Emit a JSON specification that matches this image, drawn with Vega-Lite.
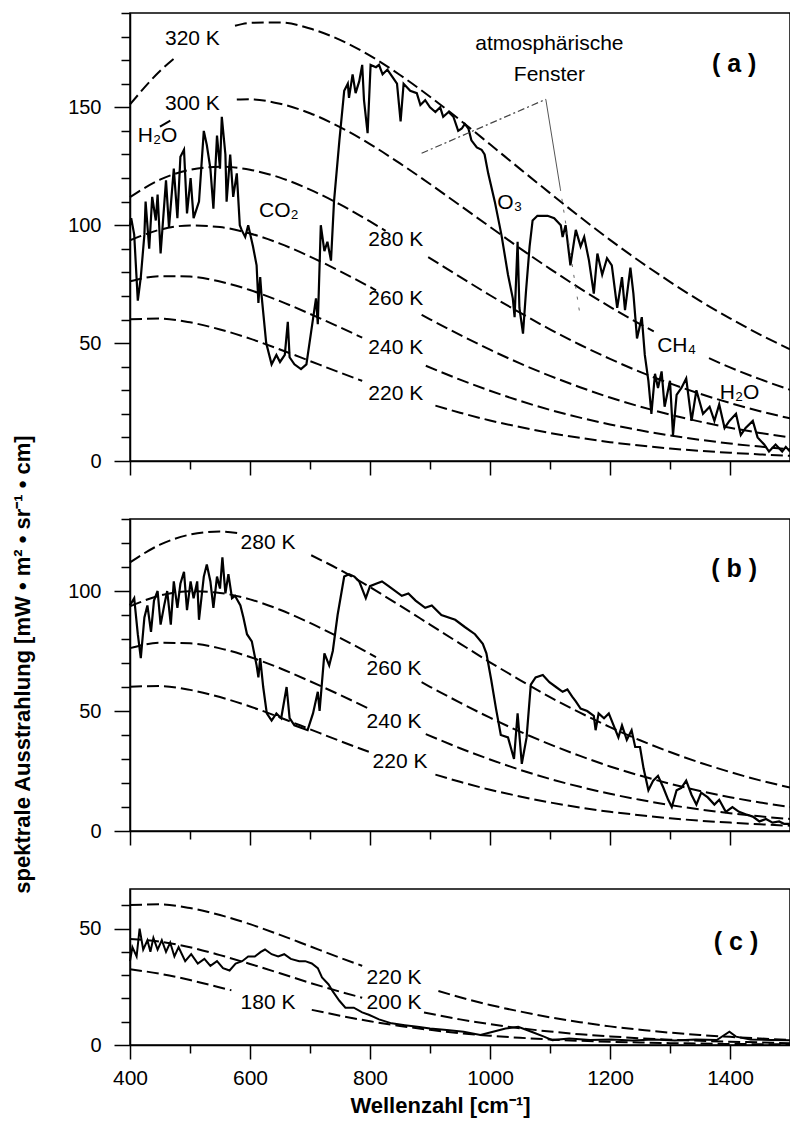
{
"$schema": "https://vega.github.io/schema/vega-lite/v6.json",
"background": "white",
"padding": {"left": 10, "top": 2, "right": 0, "bottom": 8},
"bounds": "flush",
"spacing": 58,
"config": {
 "view": {"stroke": "black", "strokeWidth": 1.5},
 "axis": {"domainColor": "black", "domainWidth": 1.5, "tickColor": "black", "tickWidth": 1.5, "labelColor": "black", "titleColor": "black", "labelFont": "Liberation Sans", "titleFont": "Liberation Sans", "grid": false, "labelOverlap": false, "labelFlush": false},
 "text": {"font": "Liberation Sans", "color": "black"}
},
"datasets": {
 "curves": [
  {"p":"a","c":"320_1","x":400,"y":151.2},{"p":"a","c":"320_1","x":450,"y":165.4},{"p":"a","c":"320_1","x":475,"y":171.0},
  {"p":"a","c":"320_2","x":575,"y":184.6},{"p":"a","c":"320_2","x":600,"y":185.8},{"p":"a","c":"320_2","x":650,"y":186.0},{"p":"a","c":"320_2","x":700,"y":183.4},{"p":"a","c":"320_2","x":750,"y":178.6},{"p":"a","c":"320_2","x":800,"y":171.9},{"p":"a","c":"320_2","x":850,"y":163.7},{"p":"a","c":"320_2","x":900,"y":154.5},{"p":"a","c":"320_2","x":950,"y":144.6},{"p":"a","c":"320_2","x":1000,"y":134.3},{"p":"a","c":"320_2","x":1050,"y":123.9},{"p":"a","c":"320_2","x":1100,"y":113.6},{"p":"a","c":"320_2","x":1150,"y":103.5},{"p":"a","c":"320_2","x":1200,"y":93.8},{"p":"a","c":"320_2","x":1250,"y":84.6},{"p":"a","c":"320_2","x":1300,"y":76.0},{"p":"a","c":"320_2","x":1350,"y":67.9},{"p":"a","c":"320_2","x":1400,"y":60.5},{"p":"a","c":"320_2","x":1450,"y":53.6},{"p":"a","c":"320_2","x":1500,"y":47.4},
  {"p":"a","c":"300_0","x":450,"y":141.8},{"p":"a","c":"300_0","x":472,"y":145.1},
  {"p":"a","c":"300_1","x":578,"y":153.3},{"p":"a","c":"300_1","x":600,"y":153.4},{"p":"a","c":"300_1","x":650,"y":151.5},{"p":"a","c":"300_1","x":700,"y":147.5},{"p":"a","c":"300_1","x":750,"y":141.6},{"p":"a","c":"300_1","x":800,"y":134.4},{"p":"a","c":"300_1","x":850,"y":126.2},{"p":"a","c":"300_1","x":900,"y":117.5},{"p":"a","c":"300_1","x":950,"y":108.4},{"p":"a","c":"300_1","x":1000,"y":99.3},{"p":"a","c":"300_1","x":1050,"y":90.2},{"p":"a","c":"300_1","x":1100,"y":81.5},{"p":"a","c":"300_1","x":1150,"y":73.2},{"p":"a","c":"300_1","x":1200,"y":65.4},{"p":"a","c":"300_1","x":1250,"y":58.1},{"p":"a","c":"300_1","x":1273,"y":55.0},
  {"p":"a","c":"300_2","x":1365,"y":43.6},{"p":"a","c":"300_2","x":1400,"y":39.7},{"p":"a","c":"300_2","x":1450,"y":34.7},{"p":"a","c":"300_2","x":1500,"y":30.2},
  {"p":"a","c":"280_1","x":400,"y":111.9},{"p":"a","c":"280_1","x":450,"y":119.3},{"p":"a","c":"280_1","x":500,"y":123.5},{"p":"a","c":"280_1","x":550,"y":124.8},{"p":"a","c":"280_1","x":600,"y":123.5},{"p":"a","c":"280_1","x":650,"y":120.2},{"p":"a","c":"280_1","x":700,"y":115.1},{"p":"a","c":"280_1","x":750,"y":108.8},{"p":"a","c":"280_1","x":800,"y":101.6},{"p":"a","c":"280_1","x":826,"y":97.6},
  {"p":"a","c":"280_2","x":897,"y":86.5},{"p":"a","c":"280_2","x":950,"y":78.1},{"p":"a","c":"280_2","x":1000,"y":70.3},{"p":"a","c":"280_2","x":1050,"y":62.9},{"p":"a","c":"280_2","x":1100,"y":55.8},{"p":"a","c":"280_2","x":1150,"y":49.3},{"p":"a","c":"280_2","x":1200,"y":43.3},{"p":"a","c":"280_2","x":1250,"y":37.8},{"p":"a","c":"280_2","x":1300,"y":32.9},{"p":"a","c":"280_2","x":1350,"y":28.5},{"p":"a","c":"280_2","x":1400,"y":24.6},{"p":"a","c":"280_2","x":1450,"y":21.1},{"p":"a","c":"280_2","x":1500,"y":18.1},
  {"p":"a","c":"260_1","x":400,"y":93.6},{"p":"a","c":"260_1","x":450,"y":98.1},{"p":"a","c":"260_1","x":500,"y":99.9},{"p":"a","c":"260_1","x":550,"y":99.2},{"p":"a","c":"260_1","x":600,"y":96.5},{"p":"a","c":"260_1","x":650,"y":92.2},{"p":"a","c":"260_1","x":700,"y":86.7},{"p":"a","c":"260_1","x":750,"y":80.5},{"p":"a","c":"260_1","x":800,"y":73.8},{"p":"a","c":"260_1","x":810,"y":72.4},
  {"p":"a","c":"260_2","x":886,"y":62.0},{"p":"a","c":"260_2","x":900,"y":60.1},{"p":"a","c":"260_2","x":950,"y":53.5},{"p":"a","c":"260_2","x":1000,"y":47.2},{"p":"a","c":"260_2","x":1050,"y":41.4},{"p":"a","c":"260_2","x":1100,"y":36.1},{"p":"a","c":"260_2","x":1150,"y":31.3},{"p":"a","c":"260_2","x":1200,"y":26.9},{"p":"a","c":"260_2","x":1250,"y":23.1},{"p":"a","c":"260_2","x":1300,"y":19.7},{"p":"a","c":"260_2","x":1350,"y":16.7},{"p":"a","c":"260_2","x":1400,"y":14.1},{"p":"a","c":"260_2","x":1450,"y":11.9},{"p":"a","c":"260_2","x":1500,"y":10.0},
  {"p":"a","c":"240_1","x":400,"y":76.2},{"p":"a","c":"240_1","x":450,"y":78.4},{"p":"a","c":"240_1","x":500,"y":78.2},{"p":"a","c":"240_1","x":550,"y":76.1},{"p":"a","c":"240_1","x":600,"y":72.5},{"p":"a","c":"240_1","x":650,"y":67.8},{"p":"a","c":"240_1","x":700,"y":62.4},{"p":"a","c":"240_1","x":750,"y":56.7},{"p":"a","c":"240_1","x":787,"y":52.3},
  {"p":"a","c":"240_2","x":893,"y":40.4},{"p":"a","c":"240_2","x":950,"y":34.5},{"p":"a","c":"240_2","x":1000,"y":29.8},{"p":"a","c":"240_2","x":1050,"y":25.5},{"p":"a","c":"240_2","x":1100,"y":21.7},{"p":"a","c":"240_2","x":1150,"y":18.4},{"p":"a","c":"240_2","x":1200,"y":15.5},{"p":"a","c":"240_2","x":1250,"y":13.0},{"p":"a","c":"240_2","x":1300,"y":10.8},{"p":"a","c":"240_2","x":1350,"y":9.0},{"p":"a","c":"240_2","x":1400,"y":7.4},{"p":"a","c":"240_2","x":1450,"y":6.1},{"p":"a","c":"240_2","x":1500,"y":5.0},
  {"p":"a","c":"220_1","x":400,"y":60.1},{"p":"a","c":"220_1","x":450,"y":60.4},{"p":"a","c":"220_1","x":500,"y":58.8},{"p":"a","c":"220_1","x":550,"y":55.8},{"p":"a","c":"220_1","x":600,"y":51.9},{"p":"a","c":"220_1","x":650,"y":47.3},{"p":"a","c":"220_1","x":700,"y":42.4},{"p":"a","c":"220_1","x":750,"y":37.5},{"p":"a","c":"220_1","x":787,"y":34.0},
  {"p":"a","c":"220_2","x":909,"y":23.5},{"p":"a","c":"220_2","x":950,"y":20.5},{"p":"a","c":"220_2","x":1000,"y":17.2},{"p":"a","c":"220_2","x":1050,"y":14.4},{"p":"a","c":"220_2","x":1100,"y":11.9},{"p":"a","c":"220_2","x":1150,"y":9.8},{"p":"a","c":"220_2","x":1200,"y":8.0},{"p":"a","c":"220_2","x":1250,"y":6.6},{"p":"a","c":"220_2","x":1300,"y":5.3},{"p":"a","c":"220_2","x":1350,"y":4.3},{"p":"a","c":"220_2","x":1400,"y":3.5},{"p":"a","c":"220_2","x":1450,"y":2.8},{"p":"a","c":"220_2","x":1500,"y":2.2},

  {"p":"b","c":"280_1","x":400,"y":111.9},{"p":"b","c":"280_1","x":450,"y":119.3},{"p":"b","c":"280_1","x":500,"y":123.5},{"p":"b","c":"280_1","x":550,"y":124.8},{"p":"b","c":"280_1","x":584,"y":124.0},
  {"p":"b","c":"280_2","x":702,"y":114.9},{"p":"b","c":"280_2","x":750,"y":108.8},{"p":"b","c":"280_2","x":800,"y":101.6},{"p":"b","c":"280_2","x":850,"y":93.9},{"p":"b","c":"280_2","x":900,"y":86.0},{"p":"b","c":"280_2","x":950,"y":78.1},{"p":"b","c":"280_2","x":1000,"y":70.3},{"p":"b","c":"280_2","x":1050,"y":62.9},{"p":"b","c":"280_2","x":1100,"y":55.8},{"p":"b","c":"280_2","x":1150,"y":49.3},{"p":"b","c":"280_2","x":1200,"y":43.3},{"p":"b","c":"280_2","x":1250,"y":37.8},{"p":"b","c":"280_2","x":1300,"y":32.9},{"p":"b","c":"280_2","x":1350,"y":28.5},{"p":"b","c":"280_2","x":1400,"y":24.6},{"p":"b","c":"280_2","x":1450,"y":21.1},{"p":"b","c":"280_2","x":1500,"y":18.1},
  {"p":"b","c":"260_1","x":400,"y":93.6},{"p":"b","c":"260_1","x":450,"y":98.1},{"p":"b","c":"260_1","x":500,"y":99.9},{"p":"b","c":"260_1","x":550,"y":99.2},{"p":"b","c":"260_1","x":600,"y":96.5},{"p":"b","c":"260_1","x":650,"y":92.2},{"p":"b","c":"260_1","x":700,"y":86.7},{"p":"b","c":"260_1","x":750,"y":80.5},{"p":"b","c":"260_1","x":800,"y":73.8},{"p":"b","c":"260_1","x":810,"y":72.4},
  {"p":"b","c":"260_2","x":886,"y":62.0},{"p":"b","c":"260_2","x":900,"y":60.1},{"p":"b","c":"260_2","x":950,"y":53.5},{"p":"b","c":"260_2","x":1000,"y":47.2},{"p":"b","c":"260_2","x":1050,"y":41.4},{"p":"b","c":"260_2","x":1100,"y":36.1},{"p":"b","c":"260_2","x":1150,"y":31.3},{"p":"b","c":"260_2","x":1200,"y":26.9},{"p":"b","c":"260_2","x":1250,"y":23.1},{"p":"b","c":"260_2","x":1300,"y":19.7},{"p":"b","c":"260_2","x":1350,"y":16.7},{"p":"b","c":"260_2","x":1400,"y":14.1},{"p":"b","c":"260_2","x":1450,"y":11.9},{"p":"b","c":"260_2","x":1500,"y":10.0},
  {"p":"b","c":"240_1","x":400,"y":76.2},{"p":"b","c":"240_1","x":450,"y":78.4},{"p":"b","c":"240_1","x":500,"y":78.2},{"p":"b","c":"240_1","x":550,"y":76.1},{"p":"b","c":"240_1","x":600,"y":72.5},{"p":"b","c":"240_1","x":650,"y":67.8},{"p":"b","c":"240_1","x":700,"y":62.4},{"p":"b","c":"240_1","x":750,"y":56.7},{"p":"b","c":"240_1","x":798,"y":51.0},
  {"p":"b","c":"240_2","x":893,"y":40.4},{"p":"b","c":"240_2","x":950,"y":34.5},{"p":"b","c":"240_2","x":1000,"y":29.8},{"p":"b","c":"240_2","x":1050,"y":25.5},{"p":"b","c":"240_2","x":1100,"y":21.7},{"p":"b","c":"240_2","x":1150,"y":18.4},{"p":"b","c":"240_2","x":1200,"y":15.5},{"p":"b","c":"240_2","x":1250,"y":13.0},{"p":"b","c":"240_2","x":1300,"y":10.8},{"p":"b","c":"240_2","x":1350,"y":9.0},{"p":"b","c":"240_2","x":1400,"y":7.4},{"p":"b","c":"240_2","x":1450,"y":6.1},{"p":"b","c":"240_2","x":1500,"y":5.0},
  {"p":"b","c":"220_1","x":400,"y":60.1},{"p":"b","c":"220_1","x":450,"y":60.4},{"p":"b","c":"220_1","x":500,"y":58.8},{"p":"b","c":"220_1","x":550,"y":55.8},{"p":"b","c":"220_1","x":600,"y":51.9},{"p":"b","c":"220_1","x":650,"y":47.3},{"p":"b","c":"220_1","x":700,"y":42.4},{"p":"b","c":"220_1","x":750,"y":37.5},{"p":"b","c":"220_1","x":798,"y":33.0},
  {"p":"b","c":"220_2","x":909,"y":23.5},{"p":"b","c":"220_2","x":950,"y":20.5},{"p":"b","c":"220_2","x":1000,"y":17.2},{"p":"b","c":"220_2","x":1050,"y":14.4},{"p":"b","c":"220_2","x":1100,"y":11.9},{"p":"b","c":"220_2","x":1150,"y":9.8},{"p":"b","c":"220_2","x":1200,"y":8.0},{"p":"b","c":"220_2","x":1250,"y":6.6},{"p":"b","c":"220_2","x":1300,"y":5.3},{"p":"b","c":"220_2","x":1350,"y":4.3},{"p":"b","c":"220_2","x":1400,"y":3.5},{"p":"b","c":"220_2","x":1450,"y":2.8},{"p":"b","c":"220_2","x":1500,"y":2.2},

  {"p":"c","c":"220_1","x":400,"y":60.1},{"p":"c","c":"220_1","x":450,"y":60.4},{"p":"c","c":"220_1","x":500,"y":58.8},{"p":"c","c":"220_1","x":550,"y":55.8},{"p":"c","c":"220_1","x":600,"y":51.9},{"p":"c","c":"220_1","x":650,"y":47.3},{"p":"c","c":"220_1","x":700,"y":42.4},{"p":"c","c":"220_1","x":750,"y":37.5},{"p":"c","c":"220_1","x":787,"y":34.0},
  {"p":"c","c":"220_2","x":914,"y":23.2},{"p":"c","c":"220_2","x":950,"y":20.5},{"p":"c","c":"220_2","x":1000,"y":17.2},{"p":"c","c":"220_2","x":1050,"y":14.4},{"p":"c","c":"220_2","x":1100,"y":11.9},{"p":"c","c":"220_2","x":1150,"y":9.8},{"p":"c","c":"220_2","x":1200,"y":8.0},{"p":"c","c":"220_2","x":1250,"y":6.6},{"p":"c","c":"220_2","x":1300,"y":5.3},{"p":"c","c":"220_2","x":1350,"y":4.3},{"p":"c","c":"220_2","x":1400,"y":3.5},{"p":"c","c":"220_2","x":1450,"y":2.8},{"p":"c","c":"220_2","x":1500,"y":2.2},
  {"p":"c","c":"200_1","x":400,"y":45.5},{"p":"c","c":"200_1","x":450,"y":44.4},{"p":"c","c":"200_1","x":500,"y":42.0},{"p":"c","c":"200_1","x":550,"y":38.6},{"p":"c","c":"200_1","x":600,"y":34.8},{"p":"c","c":"200_1","x":650,"y":30.8},{"p":"c","c":"200_1","x":700,"y":26.7},{"p":"c","c":"200_1","x":750,"y":22.9},{"p":"c","c":"200_1","x":787,"y":20.3},
  {"p":"c","c":"200_2","x":890,"y":14.0},{"p":"c","c":"200_2","x":950,"y":11.0},{"p":"c","c":"200_2","x":1000,"y":9.0},{"p":"c","c":"200_2","x":1050,"y":7.2},{"p":"c","c":"200_2","x":1100,"y":5.8},{"p":"c","c":"200_2","x":1150,"y":4.6},{"p":"c","c":"200_2","x":1200,"y":3.7},{"p":"c","c":"200_2","x":1250,"y":2.9},{"p":"c","c":"200_2","x":1300,"y":2.3},{"p":"c","c":"200_2","x":1350,"y":1.8},{"p":"c","c":"200_2","x":1400,"y":1.4},{"p":"c","c":"200_2","x":1450,"y":1.1},{"p":"c","c":"200_2","x":1500,"y":0.8},
  {"p":"c","c":"180_1","x":400,"y":32.5},{"p":"c","c":"180_1","x":450,"y":30.6},{"p":"c","c":"180_1","x":500,"y":27.9},{"p":"c","c":"180_1","x":550,"y":24.7},{"p":"c","c":"180_1","x":569,"y":23.5},
  {"p":"c","c":"180_2","x":703,"y":15.1},{"p":"c","c":"180_2","x":750,"y":12.6},{"p":"c","c":"180_2","x":800,"y":10.2},{"p":"c","c":"180_2","x":850,"y":8.2},{"p":"c","c":"180_2","x":900,"y":6.5},{"p":"c","c":"180_2","x":950,"y":5.1},{"p":"c","c":"180_2","x":1000,"y":4.0},{"p":"c","c":"180_2","x":1050,"y":3.1},{"p":"c","c":"180_2","x":1100,"y":2.4},{"p":"c","c":"180_2","x":1150,"y":1.8},{"p":"c","c":"180_2","x":1200,"y":1.4},{"p":"c","c":"180_2","x":1250,"y":1.1},{"p":"c","c":"180_2","x":1300,"y":0.8},{"p":"c","c":"180_2","x":1350,"y":0.6},{"p":"c","c":"180_2","x":1400,"y":0.45},{"p":"c","c":"180_2","x":1450,"y":0.34},{"p":"c","c":"180_2","x":1500,"y":0.25}
 ],
 "spectra": [
  {"p":"a","x":400,"y":100},{"p":"a","x":402,"y":103},{"p":"a","x":407,"y":96},{"p":"a","x":413,"y":68},{"p":"a","x":418,"y":78},{"p":"a","x":424,"y":96},{"p":"a","x":426,"y":110},{"p":"a","x":432,"y":90},{"p":"a","x":437,"y":112},{"p":"a","x":443,"y":102},{"p":"a","x":446,"y":113},{"p":"a","x":451,"y":88},{"p":"a","x":460,"y":119},{"p":"a","x":465,"y":99},{"p":"a","x":473,"y":124},{"p":"a","x":479,"y":103},{"p":"a","x":484,"y":129},{"p":"a","x":490,"y":132},{"p":"a","x":495,"y":105},{"p":"a","x":501,"y":120},{"p":"a","x":506,"y":103},{"p":"a","x":515,"y":110},{"p":"a","x":523,"y":140},{"p":"a","x":528,"y":134},{"p":"a","x":534,"y":124},{"p":"a","x":539,"y":107},{"p":"a","x":545,"y":138},{"p":"a","x":550,"y":124},{"p":"a","x":553,"y":146},{"p":"a","x":559,"y":130},{"p":"a","x":561,"y":110},{"p":"a","x":567,"y":130},{"p":"a","x":572,"y":112},{"p":"a","x":578,"y":122},{"p":"a","x":583,"y":100},{"p":"a","x":586,"y":98},{"p":"a","x":592,"y":95},{"p":"a","x":597,"y":100},{"p":"a","x":605,"y":91},{"p":"a","x":611,"y":83},{"p":"a","x":614,"y":67},{"p":"a","x":617,"y":78},{"p":"a","x":619,"y":71},{"p":"a","x":627,"y":50},{"p":"a","x":636,"y":41},{"p":"a","x":644,"y":45},{"p":"a","x":650,"y":42},{"p":"a","x":658,"y":45},{"p":"a","x":663,"y":59},{"p":"a","x":666,"y":44},{"p":"a","x":674,"y":41},{"p":"a","x":685,"y":39},{"p":"a","x":694,"y":41},{"p":"a","x":702,"y":55},{"p":"a","x":710,"y":69},{"p":"a","x":713,"y":58},{"p":"a","x":718,"y":100},{"p":"a","x":724,"y":89},{"p":"a","x":729,"y":93},{"p":"a","x":735,"y":85},{"p":"a","x":740,"y":110},{"p":"a","x":749,"y":136},{"p":"a","x":757,"y":157},{"p":"a","x":763,"y":160},{"p":"a","x":765,"y":154},{"p":"a","x":771,"y":164},{"p":"a","x":776,"y":156},{"p":"a","x":782,"y":161},{"p":"a","x":787,"y":168},{"p":"a","x":790,"y":153},{"p":"a","x":796,"y":139},{"p":"a","x":801,"y":168},{"p":"a","x":810,"y":167},{"p":"a","x":815,"y":168},{"p":"a","x":821,"y":164},{"p":"a","x":829,"y":166},{"p":"a","x":837,"y":163},{"p":"a","x":845,"y":160},{"p":"a","x":851,"y":144},{"p":"a","x":856,"y":160},{"p":"a","x":867,"y":157},{"p":"a","x":878,"y":156},{"p":"a","x":884,"y":151},{"p":"a","x":892,"y":153},{"p":"a","x":900,"y":150},{"p":"a","x":909,"y":148},{"p":"a","x":917,"y":150},{"p":"a","x":922,"y":146},{"p":"a","x":931,"y":148},{"p":"a","x":939,"y":146},{"p":"a","x":947,"y":140},{"p":"a","x":953,"y":141},{"p":"a","x":958,"y":143},{"p":"a","x":964,"y":141},{"p":"a","x":969,"y":136},{"p":"a","x":978,"y":133},{"p":"a","x":986,"y":132},{"p":"a","x":991,"y":130},{"p":"a","x":997,"y":122},{"p":"a","x":1008,"y":110},{"p":"a","x":1019,"y":96},{"p":"a","x":1030,"y":79},{"p":"a","x":1038,"y":69},{"p":"a","x":1041,"y":61},{"p":"a","x":1046,"y":93},{"p":"a","x":1049,"y":65},{"p":"a","x":1055,"y":54},{"p":"a","x":1060,"y":72},{"p":"a","x":1066,"y":91},{"p":"a","x":1071,"y":102},{"p":"a","x":1079,"y":104},{"p":"a","x":1096,"y":104},{"p":"a","x":1107,"y":103},{"p":"a","x":1118,"y":100},{"p":"a","x":1121,"y":95},{"p":"a","x":1126,"y":100},{"p":"a","x":1134,"y":83},{"p":"a","x":1143,"y":98},{"p":"a","x":1151,"y":91},{"p":"a","x":1157,"y":95},{"p":"a","x":1165,"y":85},{"p":"a","x":1173,"y":71},{"p":"a","x":1179,"y":88},{"p":"a","x":1187,"y":79},{"p":"a","x":1195,"y":86},{"p":"a","x":1203,"y":83},{"p":"a","x":1212,"y":65},{"p":"a","x":1220,"y":78},{"p":"a","x":1225,"y":64},{"p":"a","x":1234,"y":82},{"p":"a","x":1239,"y":71},{"p":"a","x":1245,"y":52},{"p":"a","x":1253,"y":61},{"p":"a","x":1258,"y":45},{"p":"a","x":1264,"y":34},{"p":"a","x":1269,"y":20},{"p":"a","x":1275,"y":37},{"p":"a","x":1280,"y":31},{"p":"a","x":1286,"y":38},{"p":"a","x":1291,"y":23},{"p":"a","x":1300,"y":34},{"p":"a","x":1305,"y":11},{"p":"a","x":1311,"y":28},{"p":"a","x":1319,"y":31},{"p":"a","x":1327,"y":35},{"p":"a","x":1336,"y":17},{"p":"a","x":1344,"y":30},{"p":"a","x":1355,"y":20},{"p":"a","x":1366,"y":23},{"p":"a","x":1374,"y":17},{"p":"a","x":1382,"y":24},{"p":"a","x":1391,"y":14},{"p":"a","x":1399,"y":17},{"p":"a","x":1410,"y":20},{"p":"a","x":1418,"y":11},{"p":"a","x":1426,"y":14},{"p":"a","x":1438,"y":17},{"p":"a","x":1446,"y":10},{"p":"a","x":1457,"y":7},{"p":"a","x":1465,"y":4},{"p":"a","x":1476,"y":7},{"p":"a","x":1487,"y":4},{"p":"a","x":1493,"y":6},{"p":"a","x":1500,"y":4},

  {"p":"b","x":400,"y":94},{"p":"b","x":407,"y":97},{"p":"b","x":413,"y":82},{"p":"b","x":418,"y":72},{"p":"b","x":424,"y":89},{"p":"b","x":429,"y":94},{"p":"b","x":435,"y":83},{"p":"b","x":440,"y":96},{"p":"b","x":446,"y":100},{"p":"b","x":451,"y":86},{"p":"b","x":457,"y":94},{"p":"b","x":462,"y":100},{"p":"b","x":468,"y":86},{"p":"b","x":473,"y":104},{"p":"b","x":479,"y":93},{"p":"b","x":484,"y":103},{"p":"b","x":490,"y":108},{"p":"b","x":495,"y":92},{"p":"b","x":501,"y":104},{"p":"b","x":506,"y":97},{"p":"b","x":512,"y":104},{"p":"b","x":515,"y":88},{"p":"b","x":523,"y":106},{"p":"b","x":528,"y":111},{"p":"b","x":534,"y":104},{"p":"b","x":539,"y":93},{"p":"b","x":545,"y":106},{"p":"b","x":550,"y":101},{"p":"b","x":554,"y":114},{"p":"b","x":559,"y":99},{"p":"b","x":564,"y":107},{"p":"b","x":570,"y":97},{"p":"b","x":575,"y":98},{"p":"b","x":584,"y":94},{"p":"b","x":589,"y":89},{"p":"b","x":595,"y":82},{"p":"b","x":603,"y":79},{"p":"b","x":611,"y":69},{"p":"b","x":614,"y":64},{"p":"b","x":617,"y":72},{"p":"b","x":622,"y":60},{"p":"b","x":628,"y":49},{"p":"b","x":636,"y":46},{"p":"b","x":644,"y":49},{"p":"b","x":652,"y":47},{"p":"b","x":661,"y":60},{"p":"b","x":666,"y":47},{"p":"b","x":674,"y":44},{"p":"b","x":685,"y":43},{"p":"b","x":696,"y":42},{"p":"b","x":705,"y":49},{"p":"b","x":713,"y":58},{"p":"b","x":716,"y":50},{"p":"b","x":724,"y":74},{"p":"b","x":732,"y":69},{"p":"b","x":738,"y":75},{"p":"b","x":746,"y":90},{"p":"b","x":757,"y":106},{"p":"b","x":765,"y":107},{"p":"b","x":774,"y":106},{"p":"b","x":782,"y":104},{"p":"b","x":793,"y":97},{"p":"b","x":800,"y":102},{"p":"b","x":810,"y":103},{"p":"b","x":820,"y":104},{"p":"b","x":831,"y":102},{"p":"b","x":853,"y":98},{"p":"b","x":864,"y":99},{"p":"b","x":876,"y":96},{"p":"b","x":892,"y":93},{"p":"b","x":903,"y":94},{"p":"b","x":919,"y":90},{"p":"b","x":942,"y":88},{"p":"b","x":958,"y":85},{"p":"b","x":975,"y":82},{"p":"b","x":988,"y":78},{"p":"b","x":994,"y":74},{"p":"b","x":1002,"y":63},{"p":"b","x":1010,"y":51},{"p":"b","x":1018,"y":40},{"p":"b","x":1030,"y":39},{"p":"b","x":1040,"y":30},{"p":"b","x":1046,"y":49},{"p":"b","x":1053,"y":28},{"p":"b","x":1061,"y":39},{"p":"b","x":1068,"y":61},{"p":"b","x":1076,"y":64},{"p":"b","x":1088,"y":65},{"p":"b","x":1099,"y":62},{"p":"b","x":1110,"y":60},{"p":"b","x":1121,"y":58},{"p":"b","x":1129,"y":59},{"p":"b","x":1137,"y":56},{"p":"b","x":1143,"y":54},{"p":"b","x":1151,"y":51},{"p":"b","x":1162,"y":50},{"p":"b","x":1173,"y":48},{"p":"b","x":1176,"y":42},{"p":"b","x":1181,"y":49},{"p":"b","x":1190,"y":47},{"p":"b","x":1198,"y":49},{"p":"b","x":1206,"y":44},{"p":"b","x":1214,"y":39},{"p":"b","x":1220,"y":44},{"p":"b","x":1228,"y":38},{"p":"b","x":1236,"y":42},{"p":"b","x":1242,"y":35},{"p":"b","x":1250,"y":35},{"p":"b","x":1256,"y":26},{"p":"b","x":1264,"y":17},{"p":"b","x":1272,"y":21},{"p":"b","x":1280,"y":23},{"p":"b","x":1289,"y":18},{"p":"b","x":1297,"y":13},{"p":"b","x":1303,"y":10},{"p":"b","x":1311,"y":17},{"p":"b","x":1319,"y":18},{"p":"b","x":1327,"y":21},{"p":"b","x":1336,"y":15},{"p":"b","x":1344,"y":11},{"p":"b","x":1352,"y":16},{"p":"b","x":1363,"y":14},{"p":"b","x":1374,"y":11},{"p":"b","x":1382,"y":13},{"p":"b","x":1393,"y":8},{"p":"b","x":1404,"y":10},{"p":"b","x":1415,"y":8},{"p":"b","x":1426,"y":7},{"p":"b","x":1438,"y":6},{"p":"b","x":1449,"y":4},{"p":"b","x":1460,"y":5},{"p":"b","x":1471,"y":3.5},{"p":"b","x":1482,"y":4},{"p":"b","x":1490,"y":3},{"p":"b","x":1500,"y":3},

  {"p":"c","x":400,"y":36},{"p":"c","x":404,"y":42},{"p":"c","x":411,"y":38},{"p":"c","x":416,"y":50},{"p":"c","x":422,"y":41},{"p":"c","x":429,"y":45},{"p":"c","x":434,"y":40},{"p":"c","x":439,"y":46},{"p":"c","x":446,"y":41},{"p":"c","x":453,"y":45},{"p":"c","x":460,"y":40},{"p":"c","x":467,"y":44},{"p":"c","x":474,"y":38},{"p":"c","x":481,"y":42},{"p":"c","x":492,"y":36},{"p":"c","x":502,"y":39},{"p":"c","x":513,"y":35},{"p":"c","x":524,"y":37},{"p":"c","x":534,"y":34},{"p":"c","x":545,"y":36},{"p":"c","x":555,"y":33},{"p":"c","x":566,"y":32},{"p":"c","x":576,"y":35},{"p":"c","x":587,"y":36},{"p":"c","x":597,"y":38},{"p":"c","x":608,"y":38},{"p":"c","x":618,"y":40},{"p":"c","x":625,"y":41},{"p":"c","x":636,"y":39},{"p":"c","x":647,"y":38},{"p":"c","x":657,"y":39},{"p":"c","x":668,"y":37},{"p":"c","x":682,"y":36},{"p":"c","x":692,"y":36},{"p":"c","x":703,"y":35},{"p":"c","x":713,"y":33},{"p":"c","x":720,"y":29},{"p":"c","x":731,"y":26},{"p":"c","x":738,"y":23},{"p":"c","x":749,"y":19},{"p":"c","x":759,"y":16},{"p":"c","x":773,"y":16},{"p":"c","x":787,"y":14},{"p":"c","x":798,"y":13},{"p":"c","x":815,"y":11},{"p":"c","x":836,"y":9.3},{"p":"c","x":858,"y":8.5},{"p":"c","x":879,"y":7.8},{"p":"c","x":900,"y":7.1},{"p":"c","x":928,"y":6.4},{"p":"c","x":956,"y":5.7},{"p":"c","x":984,"y":4.3},{"p":"c","x":1005,"y":5.7},{"p":"c","x":1026,"y":7.1},{"p":"c","x":1047,"y":7.8},{"p":"c","x":1069,"y":5.7},{"p":"c","x":1090,"y":3.6},{"p":"c","x":1104,"y":2.1},{"p":"c","x":1132,"y":2.8},{"p":"c","x":1167,"y":2.1},{"p":"c","x":1202,"y":2.4},{"p":"c","x":1237,"y":1.9},{"p":"c","x":1273,"y":2.4},{"p":"c","x":1308,"y":1.9},{"p":"c","x":1343,"y":2.4},{"p":"c","x":1378,"y":2.1},{"p":"c","x":1399,"y":5.7},{"p":"c","x":1410,"y":3.6},{"p":"c","x":1434,"y":2.4},{"p":"c","x":1469,"y":2.1},{"p":"c","x":1500,"y":2}
 ],
 "window": [
  {"g":"L","x":886,"y":130.5},{"g":"L","x":1093,"y":153.4},
  {"g":"R","x":1093,"y":153.4},{"g":"R","x":1117,"y":115.8},
  {"g":"R2","x":1117,"y":115.8},{"g":"R2","x":1149,"y":63.6}
 ],
 "labels": [
  {"p":"a","t":"320 K","x":504,"y":178.8},
  {"p":"a","t":"300 K","x":504,"y":151.4},
  {"p":"a","t":"H₂O","x":446,"y":137.8},
  {"p":"a","t":"CO₂","x":648,"y":106},
  {"p":"a","t":"280 K","x":843,"y":93.7},
  {"p":"a","t":"260 K","x":843,"y":68.7},
  {"p":"a","t":"240 K","x":843,"y":47.9},
  {"p":"a","t":"220 K","x":843,"y":28.4},
  {"p":"a","t":"O₃","x":1033,"y":109.4},
  {"p":"a","t":"CH₄","x":1311,"y":48.8},
  {"p":"a","t":"H₂O","x":1416,"y":28.8},
  {"p":"a","t":"atmosphärische","x":1099,"y":176.8},
  {"p":"a","t":"Fenster","x":1099,"y":163.7},
  {"p":"b","t":"280 K","x":630,"y":120},
  {"p":"b","t":"260 K","x":840,"y":67.5},
  {"p":"b","t":"240 K","x":840,"y":45.4},
  {"p":"b","t":"220 K","x":850,"y":28.7},
  {"p":"c","t":"220 K","x":840,"y":28.6},
  {"p":"c","t":"200 K","x":840,"y":17.9},
  {"p":"c","t":"180 K","x":630,"y":17.9}
 ],
 "letters": [
  {"p":"a","t":"( a )","x":1407,"y":168.4},
  {"p":"b","t":"( b )","x":1407,"y":109},
  {"p":"c","t":"( c )","x":1410,"y":44.4}
 ]
},
"vconcat": [
 {
  "width": 660, "height": 448,
  "encoding": {
   "x": {"field": "x", "type": "quantitative", "scale": {"domain": [400, 1500], "nice": false, "zero": false},
         "axis": {"values": [400,500,600,700,800,900,1000,1100,1200,1300,1400], "labels": false, "title": null,
                  "tickSize": {"condition": {"test": "datum.value % 200 === 0", "value": 14}, "value": 8}}},
   "y": {"field": "y", "type": "quantitative", "scale": {"domain": [0, 190], "nice": false, "zero": true},
         "axis": {"values": [0,10,20,30,40,50,60,70,80,90,100,110,120,130,140,150,160,170,180,190], "title": null,
                  "labelExpr": "datum.value % 50 === 0 ? datum.label : ''", "labelFontSize": 20, "labelPadding": 13,
                  "tickSize": {"condition": {"test": "datum.value % 50 === 0", "value": 16}, "value": 9}}}
  },
  "layer": [
   {"data": {"name": "curves"}, "transform": [{"filter": "datum.p === 'a'"}],
    "mark": {"type": "line", "color": "black", "strokeWidth": 2, "strokeDash": [12, 5], "interpolate": "monotone"},
    "encoding": {"detail": {"field": "c"}}},
   {"data": {"name": "spectra"}, "transform": [{"filter": "datum.p === 'a'"}],
    "mark": {"type": "line", "color": "black", "strokeWidth": 2.2},
    "encoding": {}},
   {"data": {"name": "window"}, "transform": [{"filter": "datum.g === 'L'"}],
    "mark": {"type": "line", "color": "#444", "strokeWidth": 1.2, "strokeDash": [7, 3, 2, 3]},
    "encoding": {}},
   {"data": {"name": "window"}, "transform": [{"filter": "datum.g === 'R'"}],
    "mark": {"type": "line", "color": "#555", "strokeWidth": 1},
    "encoding": {}},
   {"data": {"name": "window"}, "transform": [{"filter": "datum.g === 'R2'"}],
    "mark": {"type": "line", "color": "#666", "strokeWidth": 1, "strokeDash": [3, 8]},
    "encoding": {}},
   {"data": {"name": "labels"}, "transform": [{"filter": "datum.p === 'a'"}],
    "mark": {"type": "text", "fontSize": 21, "align": "center", "baseline": "middle", "font": "Liberation Sans"},
    "encoding": {"text": {"field": "t"}}},
   {"data": {"name": "letters"}, "transform": [{"filter": "datum.p === 'a'"}],
    "mark": {"type": "text", "fontSize": 25, "fontWeight": "bold", "align": "center", "baseline": "middle", "font": "Liberation Sans"},
    "encoding": {"text": {"field": "t"}}}
  ]
 },
 {
  "width": 660, "height": 312,
  "encoding": {
   "x": {"field": "x", "type": "quantitative", "scale": {"domain": [400, 1500], "nice": false, "zero": false},
         "axis": {"values": [400,500,600,700,800,900,1000,1100,1200,1300,1400], "labels": false, "title": null,
                  "tickSize": {"condition": {"test": "datum.value % 200 === 0", "value": 14}, "value": 8}}},
   "y": {"field": "y", "type": "quantitative", "scale": {"domain": [0, 130], "nice": false, "zero": true},
         "axis": {"values": [0,10,20,30,40,50,60,70,80,90,100,110,120,130],
                  "title": "spektrale Ausstrahlung [mW • m² • sr⁻¹ • cm]", "titleFontSize": 22, "titleFontWeight": "bold",
                  "titleX": -108, "titleY": 145, "titleBaseline": "middle", "titleAlign": "center", "titleAngle": -90,
                  "labelExpr": "datum.value % 50 === 0 ? datum.label : ''", "labelFontSize": 20, "labelPadding": 13,
                  "tickSize": {"condition": {"test": "datum.value % 50 === 0", "value": 16}, "value": 9}}}
  },
  "layer": [
   {"data": {"name": "curves"}, "transform": [{"filter": "datum.p === 'b'"}],
    "mark": {"type": "line", "color": "black", "strokeWidth": 2, "strokeDash": [12, 5], "interpolate": "monotone"},
    "encoding": {"detail": {"field": "c"}}},
   {"data": {"name": "spectra"}, "transform": [{"filter": "datum.p === 'b'"}],
    "mark": {"type": "line", "color": "black", "strokeWidth": 2.2},
    "encoding": {}},
   {"data": {"name": "labels"}, "transform": [{"filter": "datum.p === 'b'"}],
    "mark": {"type": "text", "fontSize": 21, "align": "center", "baseline": "middle", "font": "Liberation Sans"},
    "encoding": {"text": {"field": "t"}}},
   {"data": {"name": "letters"}, "transform": [{"filter": "datum.p === 'b'"}],
    "mark": {"type": "text", "fontSize": 25, "fontWeight": "bold", "align": "center", "baseline": "middle", "font": "Liberation Sans"},
    "encoding": {"text": {"field": "t"}}}
  ]
 },
 {
  "width": 660, "height": 156,
  "encoding": {
   "x": {"field": "x", "type": "quantitative", "scale": {"domain": [400, 1500], "nice": false, "zero": false},
         "axis": {"values": [400,500,600,700,800,900,1000,1100,1200,1300,1400],
                  "labelExpr": "datum.value % 200 === 0 ? '' + datum.value : ''", "labelFontSize": 21, "labelPadding": 8,
                  "title": "Wellenzahl [cm⁻¹]", "titleFontSize": 22, "titleFontWeight": "bold",
                  "titleX": 310, "titleY": 60, "titleBaseline": "middle", "titleAlign": "center",
                  "tickSize": {"condition": {"test": "datum.value % 200 === 0", "value": 14}, "value": 8}}},
   "y": {"field": "y", "type": "quantitative", "scale": {"domain": [0, 67], "nice": false, "zero": true},
         "axis": {"values": [0,10,20,30,40,50,60], "title": null,
                  "labelExpr": "datum.value % 50 === 0 ? datum.label : ''", "labelFontSize": 20, "labelPadding": 13,
                  "tickSize": {"condition": {"test": "datum.value % 50 === 0", "value": 16}, "value": 9}}}
  },
  "layer": [
   {"data": {"name": "curves"}, "transform": [{"filter": "datum.p === 'c'"}],
    "mark": {"type": "line", "color": "black", "strokeWidth": 2, "strokeDash": [12, 5], "interpolate": "monotone"},
    "encoding": {"detail": {"field": "c"}}},
   {"data": {"name": "spectra"}, "transform": [{"filter": "datum.p === 'c'"}],
    "mark": {"type": "line", "color": "black", "strokeWidth": 2},
    "encoding": {}},
   {"data": {"name": "labels"}, "transform": [{"filter": "datum.p === 'c'"}],
    "mark": {"type": "text", "fontSize": 21, "align": "center", "baseline": "middle", "font": "Liberation Sans"},
    "encoding": {"text": {"field": "t"}}},
   {"data": {"name": "letters"}, "transform": [{"filter": "datum.p === 'c'"}],
    "mark": {"type": "text", "fontSize": 25, "fontWeight": "bold", "align": "center", "baseline": "middle", "font": "Liberation Sans"},
    "encoding": {"text": {"field": "t"}}}
  ]
 }
]
}
